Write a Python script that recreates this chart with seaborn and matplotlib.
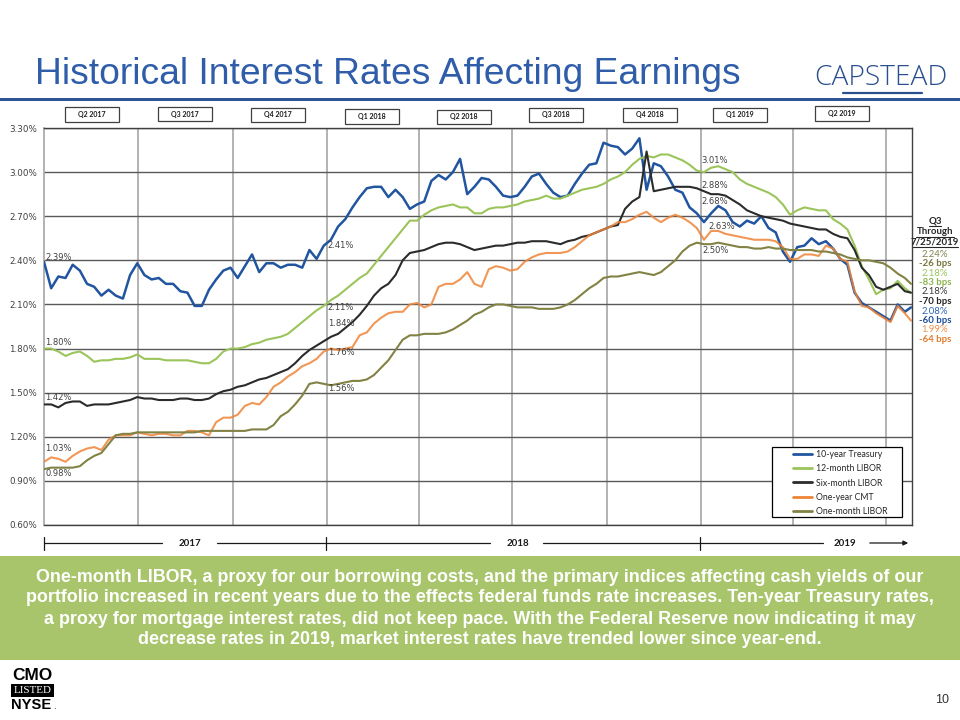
import matplotlib
matplotlib.use("Agg")
import matplotlib.pyplot as plt
from matplotlib.lines import Line2D
from matplotlib.patches import Rectangle, FancyArrowPatch
import numpy as np
import pandas as pd
import seaborn as sns

# ---------------- DATA ----------------
# weekly observations from 2017-03-31, plus the final 7/25/2019 reading
weekly_start = "2017-03-31"
weekly_end = "2019-07-19"
final_date = "2019-07-25"

treasury_10y = [
    2.39, 2.21, 2.29, 2.28, 2.37, 2.33, 2.24, 2.22, 2.16, 2.20,
    2.16, 2.14, 2.30, 2.38, 2.30, 2.27, 2.28, 2.24, 2.24, 2.19,
    2.18, 2.09, 2.09, 2.20, 2.27, 2.33, 2.35, 2.28, 2.36, 2.44,
    2.32, 2.38, 2.38, 2.35, 2.37, 2.37, 2.35, 2.47, 2.41, 2.50,
    2.54, 2.63, 2.68, 2.76, 2.83, 2.89, 2.90, 2.90, 2.83, 2.88,
    2.83, 2.75, 2.78, 2.80, 2.94, 2.98, 2.95, 3.00, 3.09, 2.85,
    2.90, 2.96, 2.95, 2.90, 2.84, 2.83, 2.84, 2.90, 2.97, 2.99,
    2.92, 2.86, 2.83, 2.84, 2.92, 2.99, 3.05, 3.06, 3.20, 3.18,
    3.17, 3.12, 3.16, 3.23, 2.88, 3.06, 3.04, 2.97, 2.88, 2.86,
    2.76, 2.72, 2.66, 2.72, 2.77, 2.74, 2.66, 2.63, 2.67, 2.65,
    2.70, 2.62, 2.59, 2.46, 2.39, 2.49, 2.50, 2.55, 2.51, 2.53,
    2.48, 2.41, 2.37, 2.18, 2.11, 2.08, 2.05, 2.02, 1.99, 2.10,
    2.05, 2.08]

libor_12m = [
    1.80, 1.80, 1.78, 1.75, 1.77, 1.78, 1.75, 1.71, 1.72, 1.72,
    1.73, 1.73, 1.74, 1.76, 1.73, 1.73, 1.73, 1.72, 1.72, 1.72,
    1.72, 1.71, 1.70, 1.70, 1.73, 1.78, 1.80, 1.80, 1.81, 1.83,
    1.84, 1.86, 1.87, 1.88, 1.90, 1.94, 1.98, 2.02, 2.06, 2.09,
    2.13, 2.16, 2.20, 2.24, 2.28, 2.31, 2.37, 2.43, 2.49, 2.55,
    2.61, 2.67, 2.67, 2.71, 2.74, 2.76, 2.77, 2.78, 2.76, 2.76,
    2.72, 2.72, 2.75, 2.76, 2.76, 2.77, 2.78, 2.80, 2.81, 2.82,
    2.84, 2.82, 2.82, 2.84, 2.86, 2.88, 2.89, 2.90, 2.92, 2.95,
    2.97, 3.00, 3.05, 3.09, 3.11, 3.10, 3.12, 3.12, 3.10, 3.08,
    3.05, 3.01, 3.00, 3.03, 3.04, 3.02, 3.00, 2.95, 2.92, 2.90,
    2.88, 2.86, 2.83, 2.78, 2.71, 2.74, 2.76, 2.75, 2.74, 2.74,
    2.68, 2.65, 2.61, 2.50, 2.36, 2.27, 2.17, 2.20, 2.21, 2.26,
    2.21, 2.18]

libor_6m = [
    1.42, 1.42, 1.40, 1.43, 1.44, 1.44, 1.41, 1.42, 1.42, 1.42,
    1.43, 1.44, 1.45, 1.47, 1.46, 1.46, 1.45, 1.45, 1.45, 1.46,
    1.46, 1.45, 1.45, 1.46, 1.49, 1.51, 1.52, 1.54, 1.55, 1.57,
    1.59, 1.60, 1.62, 1.64, 1.66, 1.70, 1.75, 1.79, 1.82, 1.85,
    1.88, 1.90, 1.94, 1.98, 2.03, 2.09, 2.16, 2.21, 2.24, 2.30,
    2.40, 2.45, 2.46, 2.47, 2.49, 2.51, 2.52, 2.52, 2.51, 2.49,
    2.47, 2.48, 2.49, 2.50, 2.50, 2.51, 2.52, 2.52, 2.53, 2.53,
    2.53, 2.52, 2.51, 2.53, 2.54, 2.56, 2.57, 2.59, 2.61, 2.63,
    2.64, 2.75, 2.80, 2.83, 3.14, 2.87, 2.88, 2.89, 2.90, 2.90,
    2.90, 2.89, 2.87, 2.85, 2.85, 2.84, 2.81, 2.78, 2.74, 2.72,
    2.70, 2.69, 2.68, 2.67, 2.65, 2.64, 2.63, 2.62, 2.61, 2.61,
    2.58, 2.56, 2.55, 2.47, 2.35, 2.30, 2.22, 2.20, 2.22, 2.24,
    2.19, 2.18]

cmt_1y = [
    1.03, 1.06, 1.05, 1.03, 1.07, 1.10, 1.12, 1.13, 1.11, 1.18,
    1.21, 1.21, 1.21, 1.23, 1.22, 1.21, 1.22, 1.22, 1.21, 1.21,
    1.24, 1.24, 1.23, 1.21, 1.30, 1.33, 1.33, 1.35, 1.41, 1.43,
    1.42, 1.47, 1.54, 1.57, 1.61, 1.64, 1.68, 1.70, 1.73, 1.78,
    1.80, 1.79, 1.80, 1.81, 1.89, 1.91, 1.97, 2.01, 2.04, 2.05,
    2.05, 2.10, 2.11, 2.08, 2.10, 2.22, 2.24, 2.24, 2.27, 2.32,
    2.24, 2.22, 2.34, 2.36, 2.35, 2.33, 2.34, 2.39, 2.42, 2.44,
    2.45, 2.45, 2.45, 2.46, 2.49, 2.53, 2.57, 2.59, 2.61, 2.63,
    2.66, 2.66, 2.68, 2.71, 2.73, 2.69, 2.66, 2.69, 2.71, 2.69,
    2.66, 2.62, 2.54, 2.60, 2.60, 2.58, 2.57, 2.56, 2.55, 2.54,
    2.54, 2.54, 2.53, 2.49, 2.41, 2.41, 2.44, 2.44, 2.43, 2.50,
    2.48, 2.41, 2.39, 2.19, 2.09, 2.08, 2.04, 2.01, 1.98, 2.09,
    2.04, 1.99]

libor_1m = [
    0.98, 0.99, 0.99, 0.99, 0.99, 1.00, 1.04, 1.07, 1.09, 1.15,
    1.21, 1.22, 1.22, 1.23, 1.23, 1.23, 1.23, 1.23, 1.23, 1.23,
    1.23, 1.23, 1.24, 1.24, 1.24, 1.24, 1.24, 1.24, 1.24, 1.25,
    1.25, 1.25, 1.28, 1.34, 1.37, 1.42, 1.48, 1.56, 1.57, 1.56,
    1.55, 1.56, 1.57, 1.58, 1.58, 1.59, 1.62, 1.67, 1.72, 1.79,
    1.86, 1.89, 1.89, 1.90, 1.90, 1.90, 1.91, 1.93, 1.96, 1.99,
    2.03, 2.05, 2.08, 2.10, 2.10, 2.09, 2.08, 2.08, 2.08, 2.07,
    2.07, 2.07, 2.08, 2.10, 2.13, 2.17, 2.21, 2.24, 2.28, 2.29,
    2.29, 2.30, 2.31, 2.32, 2.31, 2.30, 2.32, 2.36, 2.40, 2.46,
    2.50, 2.52, 2.51, 2.51, 2.52, 2.51, 2.50, 2.49, 2.49, 2.48,
    2.48, 2.49, 2.48, 2.48, 2.47, 2.47, 2.47, 2.47, 2.46, 2.46,
    2.45, 2.44, 2.42, 2.41, 2.40, 2.40, 2.39, 2.38, 2.35, 2.31,
    2.28, 2.24]

series_names = ["10-year Treasury", "12-month LIBOR", "Six-month LIBOR",
                "One-year CMT", "One-month LIBOR"]
series_values = [treasury_10y, libor_12m, libor_6m, cmt_1y, libor_1m]

y_ticks = [0.60, 0.90, 1.20, 1.50, 1.80, 2.10, 2.40, 2.70, 3.00, 3.30]
quarter_starts = ["2017-07-01", "2017-10-01", "2018-01-01", "2018-04-01",
                  "2018-07-01", "2018-10-01", "2019-01-01", "2019-04-01",
                  "2019-07-01"]
quarter_labels = ["Q2 2017", "Q3 2017", "Q4 2017", "Q1 2018", "Q2 2018",
                  "Q3 2018", "Q4 2018", "Q1 2019", "Q2 2019"]
year_labels = ["2017", "2018", "2019"]

start_labels = ["2.39%", "1.80%", "1.42%", "1.03%", "0.98%"]
ye2017_labels = ["2.41%", "2.11%", "1.84%", "1.76%", "1.56%"]
ye2018_labels = ["3.01%", "2.88%", "2.68%", "2.63%", "2.50%"]

q3_header = ["Q3", "Through", "7/25/2019"]
q3_levels = ["2.24%", "2.18%", "2.18%", "2.08%", "1.99%"]
q3_changes = ["-26 bps", "-83 bps", "-70 bps", "-60 bps", "-64 bps"]

title = "Historical Interest Rates Affecting Earnings"
summary_lines = [
    "One-month LIBOR, a proxy for our borrowing costs, and the primary indices affecting cash yields of our",
    "portfolio increased in recent years due to the effects federal funds rate increases. Ten-year Treasury rates,",
    "a proxy for mortgage interest rates, did not keep pace. With the Federal Reserve now indicating it may",
    "decrease rates in 2019, market interest rates have trended lower since year-end.",
]

# ---------------- BUILD ----------------
dates = pd.date_range(weekly_start, weekly_end, freq="7D").append(
    pd.DatetimeIndex([final_date]))
wide = pd.DataFrame({"Date": dates})
for n, v in zip(series_names, series_values):
    assert len(v) == len(dates), (n, len(v), len(dates))
    wide[n] = v
df = wide.melt(id_vars="Date", var_name="Series", value_name="Rate")

colors = {"10-year Treasury": "#2255A0", "12-month LIBOR": "#9BC45A",
          "Six-month LIBOR": "#2B2B2B", "One-year CMT": "#EE8438",
          "One-month LIBOR": "#828245"}
widths = {"10-year Treasury": 1.8, "12-month LIBOR": 1.5, "Six-month LIBOR": 1.5,
          "One-year CMT": 1.5, "One-month LIBOR": 1.5}
alphas = {"10-year Treasury": 1.0, "12-month LIBOR": 1.0, "Six-month LIBOR": 1.0,
          "One-year CMT": 0.85, "One-month LIBOR": 1.0}

sns.set_style("white")
plt.rcParams["font.family"] = ["DejaVu Sans"]

W, H = 960, 720
fig = plt.figure(figsize=(9.6, 7.2), dpi=100)
fig.patch.set_facecolor("white")


def fx(x):
    return x / W


def fy(y):
    return 1 - y / H


ax = fig.add_axes([fx(44), fy(525), fx(912) - fx(44), fy(128) - fy(525)])

for n in series_names:
    sns.lineplot(data=df[df["Series"] == n], x="Date", y="Rate", ax=ax,
                 color=colors[n], linewidth=widths[n], alpha=alphas[n],
                 legend=False, zorder=3)

ax.set_xlim(pd.Timestamp("2017-03-31"), pd.Timestamp("2019-07-26"))
ax.set_ylim(0.60, 3.30)
ax.set_yticks(y_ticks)
ax.set_yticklabels([f"{v:.2f}%" for v in y_ticks])
ax.set_xticks(pd.to_datetime(quarter_starts))
ax.set_xticklabels([])
ax.tick_params(axis="x", length=0)
ax.tick_params(axis="y", length=3, width=0.8, color="#595959", labelsize=6.3,
               labelcolor="#404040", pad=2)
ax.set_xlabel("")
ax.set_ylabel("")
ax.grid(axis="x", color="#A6A6A6", lw=1.2)
ax.grid(axis="y", color="#595959", lw=1.0)
ax.set_axisbelow(True)
for s in ["top", "right", "bottom"]:
    ax.spines[s].set_color("#404040")
    ax.spines[s].set_linewidth(1.0)
ax.spines["left"].set_color("#A6A6A6")
ax.spines["left"].set_linewidth(1.2)

# in-plot value labels
lab_kw = dict(fontsize=6, color="#404040", va="center", ha="left", zorder=5)
d0 = pd.Timestamp("2017-04-01")
for t, yv in zip(start_labels, [2.42, 1.84, 1.47, 1.12, 0.95]):
    ax.text(d0, yv, t, **lab_kw)
d1 = pd.Timestamp("2018-01-02")
for t, yv in zip(ye2017_labels, [2.50, 2.08, 1.97, 1.77, 1.53]):
    ax.text(d1, yv, t, **lab_kw)
d2 = pd.Timestamp("2019-01-01")
for t, yv, dd in zip(ye2018_labels, [3.08, 2.91, 2.80, 2.63, 2.47],
                     [0, 0, 0, 7, 1]):
    ax.text(d2 + pd.Timedelta(days=dd), yv, t, **lab_kw)

# legend: frame drawn as its own box, entries centred inside
ax.add_patch(Rectangle((fx(772), fy(517)), 130 / W, 70 / H,
                       transform=fig.transFigure, facecolor="white",
                       edgecolor="black", lw=0.9, zorder=9))
handles = [Line2D([0], [0], color=colors[n], lw=2) for n in series_names]
leg = ax.legend(handles, series_names, loc="center",
                bbox_to_anchor=(fx(840), fy(483)), bbox_transform=fig.transFigure,
                frameon=False, handlelength=2.2, handletextpad=0.4,
                labelspacing=0.6, borderpad=0.0,
                prop={"family": "Lato", "size": 6.3})
leg.set_zorder(10)

renderer = fig.canvas.get_renderer()


def fit(t, target_w):
    bb = t.get_window_extent(renderer=renderer)
    t.set_fontsize(t.get_fontsize() * target_w / bb.width)


# title + rule
tt = fig.text(fx(35), fy(75), title, ha="left", va="center", color="#2F5DA9",
              fontsize=24, family=["Liberation Sans", "DejaVu Sans"])
fit(tt, 705)
fig.patches.append(Rectangle((0, fy(100.5)), 1, 3 / H, transform=fig.transFigure,
                             facecolor="#2F5597", edgecolor="none"))
cap = fig.text(fx(881), fy(78), "CAPSTEAD", ha="center", va="center",
               color="#2B4F8E", fontsize=18, fontweight="light",
               family=["Open Sans", "DejaVu Sans"])
fit(cap, 133)
fig.lines.append(Line2D([fx(843), fx(922)], [fy(93), fy(93)], transform=fig.transFigure,
                        color="#2B4F8E", lw=1.6))

# quarter boxes
q_cx = [91.5, 184.5, 278, 371.5, 464, 555.5, 649.5, 739.5, 842]
q_cy = [114.5, 114, 115, 116.5, 117, 115, 115, 115, 113.5]
for lab, cx, cy in zip(quarter_labels, q_cx, q_cy):
    fig.patches.append(Rectangle((fx(cx - 27), fy(cy + 7)), 54 / W, 14 / H,
                                 transform=fig.transFigure, facecolor="white",
                                 edgecolor="#404040", lw=0.9))
    fig.text(fx(cx), fy(cy), lab, ha="center", va="center", fontsize=5,
             fontweight="bold", color="#1a1a1a", family=["Lato", "DejaVu Sans"])

# Q3 panel on the right
hdr_y = [221, 232, 242]
hdr_w = [12, 38, 45]
for t, yy, ww in zip(q3_header, hdr_y, hdr_w):
    fig.text(fx(935), fy(yy), t, ha="center", va="center", fontsize=6.9,
             fontweight="bold", color="#262626", family=["Lato", "DejaVu Sans"])
    fig.lines.append(Line2D([fx(935 - ww / 2), fx(935 + ww / 2)],
                            [fy(yy + 5), fy(yy + 5)], transform=fig.transFigure,
                            color="#262626", lw=0.8))
lvl_colors = ["#85844C", "#9BC45A", "#3A3A3A", "#2E64B4", "#F0914B"]
chg_colors = ["#77763C", "#8DB350", "#262626", "#1F4E96", "#E07B30"]
lvl_y = [254, 273, 292, 311, 330]
for lv, ch, c1, c2, yy in zip(q3_levels, q3_changes, lvl_colors, chg_colors, lvl_y):
    fig.text(fx(935), fy(yy), lv, ha="center", va="center", fontsize=6.9,
             color=c1, family=["Lato", "DejaVu Sans"])
    fig.text(fx(935), fy(yy + 9.5), ch, ha="center", va="center", fontsize=6.9,
             fontweight="bold", color=c2, family=["Lato", "DejaVu Sans"])

# year timeline
ty = fy(543)
for a, b in [(44, 162), (217, 490), (543, 823)]:
    fig.lines.append(Line2D([fx(a), fx(b)], [ty, ty], transform=fig.transFigure,
                            color="#1a1a1a", lw=0.9))
for xv in [44, 326, 700]:
    fig.lines.append(Line2D([fx(xv), fx(xv)], [fy(537), fy(550)],
                            transform=fig.transFigure, color="#1a1a1a", lw=0.9))
fig.patches.append(FancyArrowPatch((fx(867), ty), (fx(911), ty),
                                   transform=fig.transFigure, arrowstyle="-|>",
                                   mutation_scale=7, lw=0.9, color="#1a1a1a"))
for t, xv in zip(year_labels, [189.5, 518, 845]):
    fig.text(fx(xv), fy(544), t, ha="center", va="center", fontsize=7,
             fontweight="bold", color="#1a1a1a", family=["Lato", "DejaVu Sans"])

# green summary box
fig.patches.append(Rectangle((0, fy(660)), 1, 104 / H, transform=fig.transFigure,
                             facecolor="#A9C56C", edgecolor="none"))
for i, line in enumerate(summary_lines):
    fig.text(0.5, fy(577 + 21 * i), line, ha="center", va="center",
             color="white", fontsize=12.9, fontweight="bold",
             family=["Liberation Sans", "DejaVu Sans"])

# footer
cmo = fig.text(fx(32.5), fy(676), "CMO", ha="center", va="center", fontsize=12,
               fontweight="bold", color="black", family=["Liberation Sans", "DejaVu Sans"])
fit(cmo, 40)
fig.patches.append(Rectangle((fx(11), fy(697)), 43 / W, 13 / H, transform=fig.transFigure,
                             facecolor="black", edgecolor="none"))
lst = fig.text(fx(32.5), fy(690.5), "LISTED", ha="center", va="center", fontsize=7,
               color="white", family=["Liberation Serif", "DejaVu Serif"])
fit(lst, 38)
nyse = fig.text(fx(31), fy(705), "NYSE", ha="center", va="center", fontsize=12,
                fontweight="bold", color="black", family=["Liberation Sans", "DejaVu Sans"])
fit(nyse, 40)
fig.text(fx(53), fy(711), ".", ha="left", va="bottom", fontsize=6, color="black")
fig.text(fx(942), fy(700), "10", ha="center", va="center", fontsize=9,
         color="#333333", family=["Liberation Sans", "DejaVu Sans"])

fig.savefig("out.png", dpi=100, facecolor="white")
